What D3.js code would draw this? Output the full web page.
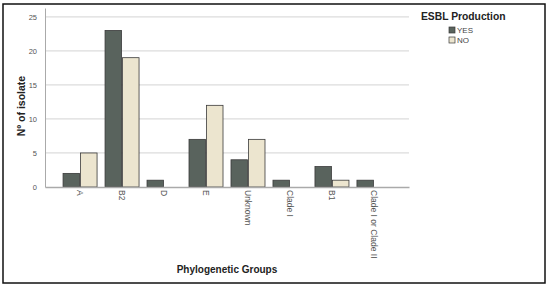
<!DOCTYPE html>
<html>
<head>
<meta charset="utf-8">
<script src="https://cdn.jsdelivr.net/npm/d3@7"></script>
<style>
  body { margin: 0; background: #fff; }
  svg text { font-family: Arial, "Liberation Sans", sans-serif; }
</style>
</head>
<body>
<svg></svg>
<script>
// categories and series
const groups = ['A', 'B2', 'D', 'E', 'Unknown', 'Clade I', 'B1', 'Clade I or Clade II'];
const yesValues = [2, 23, 1, 7, 4, 1, 3, 1];
const noValues = [5, 19, 0, 12, 7, 0, 1, 0];
const seriesNames = ['YES', 'NO'];
const yTicks = [0, 5, 10, 15, 20, 25];

const width = 550;
const height = 287;
const plotLeft = 45;
const plotRight = 409;
const plotTop = 8;
const plotBottom = 187;

const colors = { YES: '#59635d', NO: '#ece5cf' };

const svg = d3.select('svg')
              .attr('width', width)
              .attr('height', height);

const xScale = d3.scaleBand()
                 .domain(groups)
                 .range([plotLeft, plotRight])
                 .paddingInner(0.19)
                 .paddingOuter(0.43);

const innerScale = d3.scaleBand()
                     .domain(seriesNames)
                     .range([0, xScale.bandwidth()])
                     .paddingInner(0.06);

const yScale = d3.scaleLinear()
                 .domain([0, 26.3])
                 .range([plotBottom, plotTop]);

// gridlines
svg.append('g')
  .selectAll('line')
  .data(yTicks.filter((d) => d > 0))
  .enter()
  .append('line')
    .attr('x1', plotLeft)
    .attr('x2', plotRight)
    .attr('y1', (d) => yScale(d))
    .attr('y2', (d) => yScale(d))
    .attr('stroke', '#dcdcdc')
    .attr('stroke-width', 1.3);

// y axis
const yAxis = d3.axisLeft(yScale)
                .tickValues(yTicks)
                .tickSize(0)
                .tickPadding(8);

const yG = svg.append('g')
  .attr('transform', `translate(${plotLeft}, 0)`)
  .call(yAxis);
yG.select('.domain').attr('stroke', '#aaa');
yG.selectAll('text').attr('fill', '#555').style('font-size', '7.5px');

// bars
const rows = groups.map((g, i) => ({ group: g, YES: yesValues[i], NO: noValues[i] }));

svg.append('g')
  .selectAll('g')
  .data(rows)
  .enter()
  .append('g')
    .attr('transform', (d) => `translate(${xScale(d.group)}, 0)`)
  .selectAll('rect')
  .data((d) => seriesNames.map((k) => ({ key: k, value: d[k] })).filter((d) => d.value > 0))
  .enter()
  .append('rect')
    .attr('x', (d) => innerScale(d.key))
    .attr('width', innerScale.bandwidth())
    .attr('y', (d) => yScale(d.value))
    .attr('height', (d) => yScale(0) - yScale(d.value))
    .attr('fill', (d) => colors[d.key])
    .attr('stroke', '#3a3a3a')
    .attr('stroke-width', 0.8);

// x axis
const xAxis = d3.axisBottom(xScale)
                .tickSize(0)
                .tickPadding(0);

const xG = svg.append('g')
  .attr('transform', `translate(0, ${plotBottom})`)
  .call(xAxis);
xG.select('.domain').attr('stroke', '#aaa').attr('stroke-width', 1.3);
xG.selectAll('text')
  .attr('fill', '#555')
  .style('font-size', '8.5px')
  .attr('text-anchor', 'start')
  .attr('dy', '0.35em')
  .attr('y', 0)
  .attr('transform', 'translate(0, 3) rotate(90)');

// axis titles
svg.append('text')
  .text('Phylogenetic Groups')
  .attr('x', 227)
  .attr('y', 273)
  .attr('text-anchor', 'middle')
  .style('font-size', '10px')
  .style('font-weight', 'bold')
  .attr('fill', '#222');

svg.append('text')
  .text('Nº of isolate')
  .attr('transform', 'translate(25, 106) rotate(-90)')
  .attr('text-anchor', 'middle')
  .style('font-size', '10.5px')
  .style('font-weight', 'bold')
  .attr('fill', '#222');

// legend
svg.append('text')
  .text('ESBL Production')
  .attr('x', 421)
  .attr('y', 20)
  .style('font-size', '10.3px')
  .style('font-weight', 'bold')
  .attr('fill', '#222');

const legend = svg.append('g')
  .selectAll('g')
  .data(seriesNames)
  .enter()
  .append('g')
    .attr('transform', (d, i) => `translate(449, ${27 + i * 10})`);

legend.append('rect')
  .attr('width', 6)
  .attr('height', 6)
  .attr('fill', (d) => colors[d])
  .attr('stroke', '#3a3a3a')
  .attr('stroke-width', 0.7);

legend.append('text')
  .text((d) => d)
  .attr('x', 8)
  .attr('y', 6)
  .style('font-size', '8px')
  .attr('fill', '#444');

// outer frame
svg.append('rect')
  .attr('x', 3)
  .attr('y', 4)
  .attr('width', 542)
  .attr('height', 279)
  .attr('fill', 'none')
  .attr('stroke', '#111')
  .attr('stroke-width', 1.5);
</script>
</body>
</html>
